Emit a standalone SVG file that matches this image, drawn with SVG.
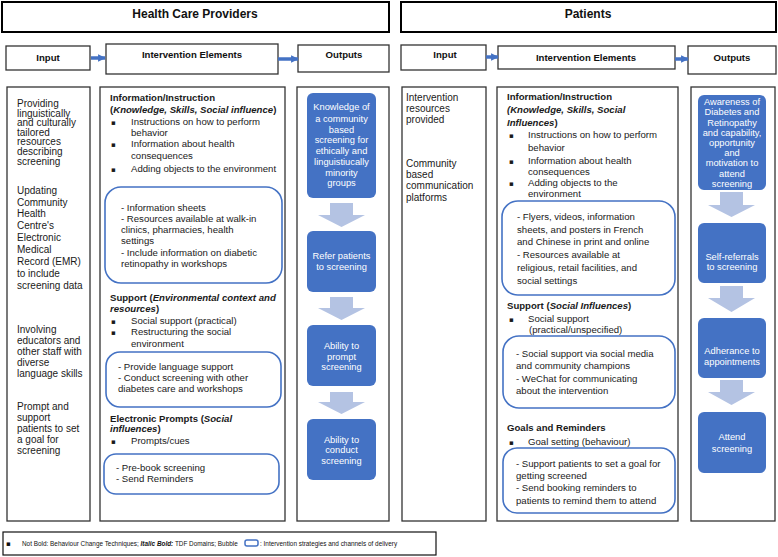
<svg xmlns="http://www.w3.org/2000/svg" width="778" height="557" viewBox="0 0 778 557">
<defs>
<style>
.hdr{fill:#fff;stroke:#000;stroke-width:2}
.box{fill:#fff;stroke:#333;stroke-width:1.3}
.col{fill:#fff;stroke:#333;stroke-width:1.3}
.t{font-family:"Liberation Sans",Arial,sans-serif;font-size:9.6px;fill:#1a1a1a}
.in{font-size:10px}
.b{font-weight:bold}
.i{font-style:italic}
.bu{font-family:"DejaVu Sans",sans-serif;font-size:7px}
.ht{font-family:"Liberation Sans",Arial,sans-serif;font-size:12px;font-weight:bold;fill:#111;text-anchor:middle}
.lt{font-family:"Liberation Sans",Arial,sans-serif;font-size:9.6px;font-weight:bold;fill:#111;text-anchor:middle}
.bub{fill:none;stroke:#4472C4;stroke-width:1.6}
.ob{fill:#4472C4}
.ot{font-family:"Liberation Sans",Arial,sans-serif;font-size:9.3px;fill:#fff;text-anchor:middle}
.chev{fill:#B4C3E3}
.arr{stroke:#4472C4;stroke-width:3.5;fill:none}
.leg{font-family:"Liberation Sans",Arial,sans-serif;font-size:6.4px;fill:#111}
</style>
<marker id="ah" viewBox="0 0 10 10" refX="9" refY="5" markerWidth="2.2" markerHeight="2.2" markerUnits="strokeWidth" orient="auto">
<path d="M0,0 L10,5 L0,10 z" fill="#4472C4"/>
</marker>
</defs>
<rect width="778" height="557" fill="#fff"/>

<!-- Headers -->
<g id="hdr-hcp"><rect class="hdr" x="2" y="2" width="387" height="30"/><text class="ht" x="195" y="18">Health Care Providers</text></g>
<g id="hdr-pat"><rect class="hdr" x="401" y="2" width="375" height="30"/><text class="ht" x="588" y="18">Patients</text></g>

<!-- Row labels left -->
<g id="lbl-input-l"><rect class="box" x="6" y="46" width="84" height="24"/><text class="lt" x="48" y="61">Input</text></g>
<g id="lbl-ie-l"><rect class="box" x="106" y="44" width="172" height="30"/><text class="lt" x="192" y="58">Intervention Elements</text></g>
<g id="lbl-out-l"><rect class="box" x="298" y="45" width="91" height="27"/><text class="lt" x="344" y="58">Outputs</text></g>
<!-- Row labels right -->
<g id="lbl-input-r"><rect class="box" x="401" y="45" width="85" height="25"/><text class="lt" x="445" y="58">Input</text></g>
<g id="lbl-ie-r"><rect class="box" x="498" y="46" width="177" height="23"/><text class="lt" x="586" y="61">Intervention Elements</text></g>
<g id="lbl-out-r"><rect class="box" x="688" y="46" width="88" height="28"/><text class="lt" x="732" y="61">Outputs</text></g>

<!-- Left input column -->
<g id="col-input-l">
<rect class="col" x="7" y="87" width="83" height="434"/>
<text class="t in">
<tspan x="17" y="107">Providing</tspan><tspan x="17" y="116.6">linguistically</tspan><tspan x="17" y="126.2">and culturally</tspan><tspan x="17" y="135.8">tailored</tspan><tspan x="17" y="145.4">resources</tspan><tspan x="17" y="155">describing</tspan><tspan x="17" y="164.6">screening</tspan>
</text>
<text class="t in">
<tspan x="17" y="193.6">Updating</tspan><tspan x="17" y="205.5">Community</tspan><tspan x="17" y="217.4">Health</tspan><tspan x="17" y="229.3">Centre's</tspan><tspan x="17" y="241.2">Electronic</tspan><tspan x="17" y="253.1">Medical</tspan><tspan x="17" y="265">Record (EMR)</tspan><tspan x="17" y="276.9">to include</tspan><tspan x="17" y="288.8">screening data</tspan>
</text>
<text class="t in">
<tspan x="17" y="333">Involving</tspan><tspan x="17" y="344">educators and</tspan><tspan x="17" y="355">other staff with</tspan><tspan x="17" y="366">diverse</tspan><tspan x="17" y="377">language skills</tspan>
</text>
<text class="t in">
<tspan x="17" y="409.6">Prompt and</tspan><tspan x="17" y="420.8">support</tspan><tspan x="17" y="432">patients to set</tspan><tspan x="17" y="443">a goal for</tspan><tspan x="17" y="454">screening</tspan>
</text>
</g>

<!-- Left intervention column -->
<g id="col-ie-l">
<rect class="col" x="100" y="87" width="185" height="434"/>
<text class="t b" x="110" y="100.5">Information/Instruction</text>
<text class="t b" x="110" y="112.5">(<tspan class="i">Knowledge, Skills, Social influence</tspan>)</text>
<text class="t"><tspan class="bu" x="111" y="124.5">▪</tspan><tspan x="131" y="124.5">Instructions on how to perform</tspan><tspan x="131" y="135.5">behavior</tspan><tspan class="bu" x="111" y="146.5">▪</tspan><tspan x="131" y="146.5">Information about health</tspan><tspan x="131" y="158.5">consequences</tspan><tspan class="bu" x="111" y="171.5">▪</tspan><tspan x="131" y="171.5">Adding objects to the environment</tspan></text>
<rect class="bub" x="105" y="187" width="177" height="96" rx="16"/>
<text class="t"><tspan x="121" y="210.5">- Information sheets</tspan><tspan x="121" y="221.5">- Resources available at walk-in</tspan><tspan x="121" y="232.5">clinics, pharmacies, health</tspan><tspan x="121" y="244">settings</tspan><tspan x="121" y="255.5">- Include information on diabetic</tspan><tspan x="121" y="266.5">retinopathy in workshops</tspan></text>
<text class="t b" x="110" y="300.5">Support (<tspan class="i">Environmental context and</tspan></text>
<text class="t b" x="110" y="311.5"><tspan class="i">resources</tspan>)</text>
<text class="t"><tspan class="bu" x="111" y="323.5">▪</tspan><tspan x="131" y="323.5">Social support (practical)</tspan><tspan class="bu" x="111" y="334.5">▪</tspan><tspan x="131" y="334.5">Restructuring the social</tspan><tspan x="131" y="346.5">environment</tspan></text>
<rect class="bub" x="106" y="352" width="175" height="55" rx="14"/>
<text class="t"><tspan x="118" y="369.5">- Provide language support</tspan><tspan x="118" y="380.5">- Conduct screening with other</tspan><tspan x="118" y="391.5">diabetes care and workshops</tspan></text>
<text class="t b" x="110" y="421.5">Electronic Prompts (<tspan class="i">Social</tspan></text>
<text class="t b" x="110" y="431.8"><tspan class="i">influences</tspan>)</text>
<text class="t"><tspan class="bu" x="111" y="443.5">▪</tspan><tspan x="131" y="443.5">Prompts/cues</tspan></text>
<rect class="bub" x="104" y="454" width="175" height="40" rx="12"/>
<text class="t"><tspan x="116" y="470.5">- Pre-book screening</tspan><tspan x="116" y="481.5">- Send Reminders</tspan></text>
</g>

<!-- Left outputs column -->
<g id="col-out-l"><rect class="col" x="297" y="87" width="92" height="434"/></g>
<g id="out-l-1"><rect class="ob" x="307" y="93" width="69" height="105" rx="6"/>
<text class="ot"><tspan x="341.5" y="110">Knowledge of</tspan><tspan x="341.5" y="121.6">a community</tspan><tspan x="341.5" y="132.6">based</tspan><tspan x="341.5" y="143.3">screening for</tspan><tspan x="341.5" y="154.3">ethically and</tspan><tspan x="341.5" y="165">linguistiucally</tspan><tspan x="341.5" y="176">minority</tspan><tspan x="341.5" y="186">groups</tspan></text></g>
<g id="out-l-2"><rect class="ob" x="307" y="231" width="69" height="61" rx="6"/>
<text class="ot"><tspan x="341.5" y="259">Refer patients</tspan><tspan x="341.5" y="270">to screening</tspan></text></g>
<g id="out-l-3"><rect class="ob" x="307" y="325" width="69" height="61" rx="6"/>
<text class="ot"><tspan x="341.5" y="349.3">Ability to</tspan><tspan x="341.5" y="360">prompt</tspan><tspan x="341.5" y="370">screening</tspan></text></g>
<g id="out-l-4"><rect class="ob" x="307" y="419" width="69" height="61" rx="6"/>
<text class="ot"><tspan x="341.5" y="442.6">Ability to</tspan><tspan x="341.5" y="453.3">conduct</tspan><tspan x="341.5" y="464">screening</tspan></text></g>

<!-- Right input column -->
<g id="col-input-r">
<rect class="col" x="402" y="87" width="84" height="434"/>
<text class="t in"><tspan x="406" y="100.6">Intervention</tspan><tspan x="406" y="111.6">resources</tspan><tspan x="406" y="122.6">provided</tspan></text>
<text class="t in"><tspan x="406" y="166.6">Community</tspan><tspan x="406" y="177.6">based</tspan><tspan x="406" y="189.2">communication</tspan><tspan x="406" y="200.6">platforms</tspan></text>
</g>

<!-- Right intervention column -->
<g id="col-ie-r">
<rect class="col" x="497" y="87" width="181" height="434"/>
<text class="t b" x="507" y="100.2">Information/Instruction</text>
<text class="t b i" x="507" y="112.8">(Knowledge, Skills, Social</text>
<text class="t b" x="507" y="125.8"><tspan class="i">Influences</tspan>)</text>
<text class="t"><tspan class="bu" x="509" y="137.8">▪</tspan><tspan x="528" y="137.8">Instructions on how to perform</tspan><tspan x="528" y="150.8">behavior</tspan><tspan class="bu" x="509" y="163.5">▪</tspan><tspan x="528" y="163.5">Information about health</tspan><tspan x="528" y="174.5">consequences</tspan><tspan class="bu" x="509" y="185.8">▪</tspan><tspan x="528" y="185.8">Adding objects to the</tspan><tspan x="528" y="196.8">environment</tspan></text>
<rect class="bub" x="502" y="201" width="173" height="94" rx="16"/>
<text class="t"><tspan x="517" y="220.2">- Flyers, videos, information</tspan><tspan x="517" y="232.8">sheets, and posters in French</tspan><tspan x="517" y="245.2">and Chinese in print and online</tspan><tspan x="517" y="257.8">- Resources available at</tspan><tspan x="517" y="270.8">religious, retail facilities, and</tspan><tspan x="517" y="283.5">social settings</tspan></text>
<text class="t b" x="507" y="308.8">Support (<tspan class="i">Social Influences</tspan>)</text>
<text class="t"><tspan class="bu" x="509" y="321.8">▪</tspan><tspan x="528" y="321.8">Social support</tspan><tspan x="529" y="332.5">(practical/unspecified)</tspan></text>
<rect class="bub" x="503" y="336" width="172" height="72" rx="16"/>
<text class="t"><tspan x="516" y="356.8">- Social support via social media</tspan><tspan x="516" y="368.5">and community champions</tspan><tspan x="516" y="381.8">- WeChat for communicating</tspan><tspan x="516" y="393.5">about the intervention</tspan></text>
<text class="t b" x="507" y="431.2">Goals and Reminders</text>
<text class="t"><tspan class="bu" x="509" y="444.5">▪</tspan><tspan x="528" y="444.5">Goal setting (behaviour)</tspan></text>
<rect class="bub" x="503" y="448" width="172" height="65" rx="14"/>
<text class="t"><tspan x="516" y="466.8">- Support patients to set a goal for</tspan><tspan x="516" y="478.5">getting screened</tspan><tspan x="516" y="491.2">- Send booking reminders to</tspan><tspan x="516" y="503.5">patients to remind them to attend</tspan></text>
</g>

<!-- Right outputs column -->
<g id="col-out-r"><rect class="col" x="691" y="87" width="84" height="434"/></g>
<g id="out-r-1"><rect class="ob" x="698" y="95" width="68" height="95" rx="6"/>
<text class="ot"><tspan x="732" y="105">Awareness of</tspan><tspan x="732" y="115">Diabetes and</tspan><tspan x="732" y="125.6">Retinopathy</tspan><tspan x="732" y="136">and capability,</tspan><tspan x="732" y="146">opportunity</tspan><tspan x="732" y="156">and</tspan><tspan x="732" y="166">motivation to</tspan><tspan x="732" y="176.6">attend</tspan><tspan x="732" y="186.6">screening</tspan></text></g>
<g id="out-r-2"><rect class="ob" x="698" y="223" width="68" height="60" rx="6"/>
<text class="ot"><tspan x="732" y="260">Self-referrals</tspan><tspan x="732" y="270">to screening</tspan></text></g>
<g id="out-r-3"><rect class="ob" x="698" y="318" width="68" height="60" rx="6"/>
<text class="ot"><tspan x="732" y="354">Adherance to</tspan><tspan x="732" y="365">appointments</tspan></text></g>
<g id="out-r-4"><rect class="ob" x="698" y="412" width="68" height="61" rx="6"/>
<text class="ot"><tspan x="732" y="440">Attend</tspan><tspan x="732" y="451.6">screening</tspan></text></g>

<!-- Connectors -->
<g id="connectors">
<line class="arr" x1="91" y1="58" x2="105" y2="58" marker-end="url(#ah)"/>
<line class="arr" x1="278" y1="59" x2="298" y2="59" marker-end="url(#ah)"/>
<line class="arr" x1="486" y1="57" x2="498" y2="57" marker-end="url(#ah)"/>
<line class="arr" x1="675" y1="59" x2="688" y2="59" marker-end="url(#ah)"/>
<polygon class="chev" points="330,203 353,203 353,215 365,215 341.5,227 318,215 330,215"/>
<polygon class="chev" points="330,297 353,297 353,308 365,308 341.5,320 318,308 330,308"/>
<polygon class="chev" points="330,392 353,392 353,402 365,402 341.5,414 318,402 330,402"/>
<polygon class="chev" points="720,192 743,192 743,205 755,205 731.5,217 708,205 720,205"/>
<polygon class="chev" points="720,286 743,286 743,298 755,298 731.5,312 708,298 720,298"/>
<polygon class="chev" points="720,380 743,380 743,392 755,392 731.5,405 708,392 720,392"/>
</g>

<!-- Legend -->
<g id="legend">
<rect x="3" y="532" width="433" height="23" fill="#fff" stroke="#111" stroke-width="1.2"/>
<text class="leg" x="6" y="546"><tspan class="bu" font-size="6px">▪</tspan></text>
<text class="leg" x="22" y="546">Not Bold: Behaviour Change Techniques; <tspan font-weight="bold" font-style="italic">Italic Bold:</tspan> TDF Domains; Bubble</text>
<rect x="245" y="540" width="13" height="6" rx="2" fill="none" stroke="#4472C4" stroke-width="1.5"/>
<text class="leg" x="260" y="546">: Intervention strategies and channels of delivery</text>
</g>
</svg>
